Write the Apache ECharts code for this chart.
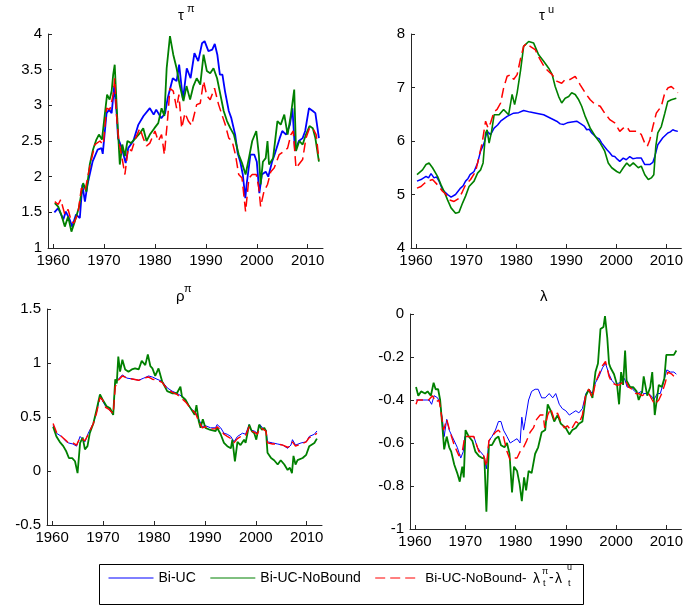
<!DOCTYPE html>
<html><head><meta charset="utf-8">
<script src="https://cdn.jsdelivr.net/npm/echarts@6/dist/echarts.min.js"></script>
<style>html,body{margin:0;padding:0;background:#fff}#c{width:686px;height:607px}</style>
</head><body><div id="c"></div>
<script>
// x tick labels (years)
const xTicks = [1960, 1970, 1980, 1990, 2000, 2010];
const seriesNames = ['Bi-UC', 'Bi-UC-NoBound', 'Bi-UC-NoBound-'];

// Panel 1: tau^pi
const tauPiBiUC = [[1960.25,1.50],[1961.0,1.56],[1962.0,1.40],[1962.5,1.51],[1963.25,1.40],[1963.75,1.30],[1964.5,1.47],[1965.25,1.42],[1965.75,1.89],[1966.25,1.65],[1966.75,1.89],[1967.75,2.21],[1968.75,2.38],[1969.5,2.40],[1969.75,2.32],[1970.5,2.89],[1971.0,2.94],[1971.5,2.89],[1972.0,3.27],[1972.5,2.87],[1972.75,2.54],[1973.5,2.40],[1974.25,2.19],[1974.75,2.40],[1975.75,2.50],[1976.75,2.73],[1977.75,2.85],[1979.0,2.96],[1979.75,2.87],[1980.25,2.94],[1981.25,2.82],[1982.0,2.89],[1982.5,3.10],[1983.5,3.38],[1984.25,3.34],[1984.75,3.57],[1985.5,3.08],[1986.25,3.52],[1987.0,3.38],[1987.75,3.73],[1988.5,3.62],[1989.25,3.87],[1989.75,3.90],[1990.5,3.76],[1991.25,3.78],[1991.75,3.86],[1992.25,3.71],[1992.75,3.43],[1993.25,3.43],[1993.75,3.20],[1994.5,2.92],[1995.0,2.82],[1995.75,2.59],[1996.25,2.33],[1996.75,2.21],[1997.25,2.03],[1997.75,1.70],[1998.0,1.89],[1998.75,2.31],[1999.5,2.31],[2000.0,2.21],[2000.5,1.77],[2001.0,2.03],[2001.75,2.07],[2002.25,2.00],[2003.0,2.21],[2003.5,2.31],[2004.5,2.54],[2005.0,2.64],[2005.75,2.59],[2006.5,2.73],[2007.0,2.96],[2007.5,2.36],[2008.25,2.50],[2009.0,2.54],[2009.5,2.64],[2010.25,2.96],[2011.0,2.92],[2011.5,2.89],[2012.2,2.54]];
const tauPiNoBound = [[1960.33,1.63],[1961.0,1.58],[1961.6,1.47],[1962.3,1.30],[1962.95,1.44],[1963.6,1.23],[1964.25,1.37],[1965.05,1.56],[1965.9,1.91],[1966.55,1.79],[1967.2,2.17],[1967.85,2.38],[1968.5,2.52],[1969.0,2.59],[1969.6,2.52],[1970.15,2.87],[1970.6,3.15],[1971.1,3.08],[1971.5,3.20],[1971.8,3.43],[1972.1,3.57],[1972.6,2.82],[1973.1,2.17],[1973.6,2.45],[1974.1,2.29],[1974.6,2.50],[1975.3,2.47],[1976.2,2.54],[1977.05,2.61],[1977.7,2.68],[1978.35,2.50],[1979.0,2.59],[1979.9,2.68],[1980.65,2.75],[1981.3,2.96],[1981.85,2.85],[1982.3,3.52],[1982.95,3.97],[1983.6,3.71],[1984.25,3.52],[1984.9,3.27],[1985.6,3.06],[1986.2,3.27],[1986.9,3.08],[1987.55,3.27],[1988.2,3.38],[1988.9,3.29],[1989.55,3.71],[1990.2,3.48],[1990.85,3.45],[1991.5,3.52],[1992.2,3.38],[1992.85,3.15],[1993.5,2.92],[1994.15,2.78],[1994.8,2.68],[1995.5,2.59],[1996.45,2.31],[1997.1,2.19],[1997.8,2.03],[1998.45,2.26],[1999.1,2.50],[1999.9,2.64],[2000.4,2.31],[2000.75,1.89],[2001.2,2.21],[2001.75,2.26],[2002.1,2.50],[2002.4,2.17],[2003.2,2.26],[2004.05,2.78],[2004.7,2.73],[2005.4,2.87],[2006.05,2.59],[2006.7,2.87],[2007.35,3.22],[2007.7,2.36],[2008.35,2.50],[2009.0,2.45],[2009.65,2.59],[2010.35,2.71],[2011.0,2.68],[2011.5,2.54],[2012.2,2.21]];
const tauPiNoBoundL = [[1960.33,1.65],[1961.0,1.61],[1961.5,1.68],[1962.3,1.47],[1962.95,1.54],[1963.6,1.37],[1964.1,1.35],[1964.9,1.49],[1965.55,1.84],[1966.25,1.79],[1967.2,2.14],[1968.2,2.45],[1969.2,2.50],[1969.85,2.45],[1970.5,2.96],[1971.15,2.94],[1971.8,3.15],[1972.1,3.38],[1972.45,2.87],[1972.9,2.50],[1973.55,2.26],[1974.1,2.03],[1974.75,2.40],[1975.4,2.36],[1976.2,2.54],[1977.05,2.68],[1977.7,2.54],[1978.35,2.43],[1979.0,2.47],[1980.0,2.64],[1980.65,2.50],[1981.3,2.59],[1981.85,2.31],[1982.5,2.82],[1982.95,3.24],[1983.6,3.20],[1984.25,2.96],[1984.7,3.15],[1985.25,2.68],[1985.9,2.89],[1986.55,2.78],[1987.2,2.72],[1988.2,3.01],[1988.9,3.03],[1989.55,3.34],[1990.2,3.13],[1990.85,3.08],[1991.7,3.24],[1992.5,3.01],[1993.15,2.87],[1993.8,2.73],[1994.5,2.54],[1995.15,2.50],[1995.8,2.31],[1996.45,2.03],[1997.1,1.98],[1997.8,1.51],[1998.45,1.98],[1999.1,2.03],[1999.9,2.03],[2000.4,1.84],[2000.75,1.58],[2001.4,1.79],[2002.1,1.89],[2002.75,2.07],[2003.4,2.12],[2004.4,2.31],[2005.4,2.36],[2006.05,2.40],[2006.7,2.59],[2007.15,2.64],[2007.7,2.12],[2009.0,2.24],[2009.65,2.54],[2010.35,2.68],[2011.0,2.68],[2011.65,2.59],[2012.2,2.24]];

// Panel 2: tau^u
const tauUBiUC = [[1960.2,5.25],[1961.0,5.28],[1962.0,5.34],[1962.5,5.31],[1963.0,5.39],[1963.6,5.31],[1964.1,5.33],[1964.6,5.25],[1965.3,5.09],[1966.3,5.00],[1967.0,4.95],[1967.9,5.00],[1968.9,5.12],[1969.4,5.16],[1969.9,5.25],[1970.4,5.30],[1970.8,5.37],[1971.6,5.43],[1972.3,5.59],[1972.9,5.81],[1973.6,5.96],[1974.2,6.18],[1974.9,6.12],[1975.6,6.24],[1976.3,6.30],[1976.9,6.37],[1978.2,6.46],[1979.5,6.52],[1980.5,6.53],[1981.5,6.57],[1982.8,6.54],[1984.0,6.52],[1985.5,6.49],[1986.8,6.43],[1988.1,6.37],[1988.8,6.32],[1989.5,6.31],[1990.2,6.34],[1990.8,6.35],[1992.1,6.37],[1993.1,6.31],[1993.6,6.28],[1994.1,6.21],[1994.6,6.22],[1995.1,6.15],[1996.1,6.06],[1996.6,6.04],[1997.1,5.96],[1998.1,5.84],[1998.7,5.78],[1999.2,5.72],[1999.7,5.71],[2000.2,5.66],[2000.7,5.62],[2001.4,5.68],[2002.0,5.65],[2002.7,5.71],[2003.3,5.67],[2004.0,5.68],[2005.0,5.68],[2005.7,5.56],[2006.7,5.56],[2007.3,5.60],[2007.7,5.71],[2008.3,5.93],[2009.3,6.06],[2010.3,6.15],[2010.8,6.17],[2011.3,6.21],[2011.8,6.19],[2012.3,6.18]];
const tauUNoBound = [[1960.2,5.37],[1961.3,5.46],[1962.0,5.56],[1962.6,5.59],[1963.3,5.50],[1964.3,5.34],[1965.0,5.18],[1965.6,5.06],[1966.3,4.90],[1967.0,4.75],[1967.9,4.65],[1968.6,4.67],[1969.3,4.84],[1969.9,4.97],[1970.6,5.15],[1971.6,5.25],[1972.3,5.40],[1972.9,5.46],[1973.4,5.59],[1973.9,6.15],[1974.2,6.21],[1974.6,5.96],[1975.1,6.18],[1975.6,6.49],[1976.6,6.49],[1977.5,6.59],[1978.5,6.49],[1979.2,6.87],[1979.7,6.68],[1980.2,6.90],[1980.9,7.33],[1981.5,7.77],[1982.5,7.86],[1983.5,7.83],[1984.5,7.61],[1985.5,7.49],[1986.5,7.36],[1987.2,7.24],[1987.8,7.02],[1988.5,6.83],[1989.1,6.71],[1989.8,6.80],[1990.5,6.83],[1991.1,6.90],[1991.8,6.87],[1992.5,6.77],[1993.1,6.65],[1993.8,6.46],[1994.8,6.24],[1995.8,6.09],[1996.8,5.96],[1997.7,5.81],[1998.4,5.59],[1999.1,5.50],[2000.1,5.43],[2000.7,5.40],[2001.4,5.50],[2002.1,5.59],[2002.7,5.53],[2003.4,5.59],[2004.4,5.50],[2005.0,5.53],[2005.7,5.37],[2006.4,5.28],[2007.0,5.31],[2007.5,5.37],[2007.9,5.90],[2008.3,6.15],[2009.0,6.27],[2009.7,6.52],[2010.3,6.74],[2011.0,6.77],[2012.0,6.80]];
const tauUNoBoundL = [[1960.2,5.12],[1961.0,5.15],[1961.7,5.21],[1962.3,5.25],[1963.3,5.28],[1964.3,5.18],[1965.3,5.06],[1966.0,5.00],[1966.6,4.90],[1967.6,4.87],[1968.6,4.93],[1969.3,5.06],[1969.9,5.18],[1970.9,5.28],[1971.9,5.43],[1972.6,5.71],[1973.2,5.96],[1973.9,6.37],[1974.4,6.24],[1974.9,6.34],[1975.6,6.55],[1976.2,6.59],[1976.9,6.71],[1977.5,6.99],[1978.2,7.21],[1978.9,7.24],[1979.5,7.15],[1980.2,7.24],[1980.9,7.55],[1981.5,7.77],[1982.2,7.83],[1982.8,7.77],[1983.8,7.71],[1984.8,7.52],[1985.8,7.36],[1986.5,7.30],[1987.2,7.24],[1988.1,7.12],[1989.1,7.08],[1989.8,7.15],[1990.8,7.15],[1991.8,7.21],[1992.8,7.05],[1993.8,6.90],[1994.8,6.77],[1995.8,6.68],[1996.8,6.65],[1997.7,6.52],[1998.7,6.40],[1999.7,6.34],[2000.7,6.18],[2001.4,6.24],[2002.1,6.27],[2002.7,6.18],[2003.7,6.18],[2004.4,6.18],[2005.0,6.12],[2005.7,5.96],[2006.2,5.90],[2006.7,6.02],[2007.4,6.30],[2008.0,6.52],[2009.0,6.65],[2009.7,6.90],[2010.3,6.99],[2011.0,7.02],[2011.7,6.96],[2012.3,6.90]];

// Panel 3: rho^pi
const rhoBiUC = [[1960.2,0.42],[1960.85,0.35],[1961.85,0.32],[1962.8,0.27],[1963.2,0.26],[1964.1,0.25],[1964.8,0.23],[1965.5,0.32],[1965.8,0.33],[1966.45,0.27],[1967.1,0.35],[1968.1,0.44],[1968.75,0.55],[1969.4,0.69],[1969.9,0.65],[1970.5,0.60],[1971.2,0.57],[1972.0,0.52],[1972.4,0.81],[1973.0,0.85],[1973.8,0.89],[1974.7,0.86],[1976.0,0.85],[1977.0,0.84],[1978.0,0.86],[1978.95,0.88],[1979.7,0.87],[1980.6,0.85],[1981.6,0.83],[1982.6,0.77],[1983.55,0.74],[1984.5,0.72],[1985.5,0.69],[1986.2,0.65],[1987.2,0.58],[1988.2,0.54],[1988.8,0.48],[1989.5,0.41],[1990.1,0.42],[1991.1,0.40],[1992.1,0.40],[1992.4,0.43],[1993.1,0.40],[1993.75,0.35],[1994.4,0.34],[1995.1,0.32],[1995.7,0.27],[1996.4,0.32],[1997.4,0.35],[1998.0,0.34],[1998.7,0.43],[1999.0,0.38],[1999.7,0.37],[2000.3,0.35],[2000.8,0.43],[2001.3,0.40],[2002.0,0.38],[2002.3,0.27],[2003.3,0.26],[2004.3,0.25],[2005.3,0.24],[2006.25,0.21],[2006.9,0.24],[2007.2,0.29],[2007.8,0.24],[2008.9,0.26],[2009.9,0.27],[2010.5,0.32],[2011.5,0.34],[2012.0,0.37]];
const rhoNoBound = [[1960.2,0.41],[1960.85,0.32],[1961.5,0.27],[1962.2,0.23],[1962.8,0.18],[1963.3,0.12],[1963.95,0.12],[1964.5,0.09],[1965.0,-0.02],[1965.5,0.26],[1966.0,0.31],[1966.45,0.20],[1966.95,0.23],[1967.4,0.35],[1968.1,0.44],[1968.75,0.57],[1969.4,0.71],[1970.05,0.65],[1970.7,0.60],[1971.4,0.58],[1972.0,0.52],[1972.4,0.85],[1972.7,0.81],[1973.0,1.06],[1973.35,0.92],[1973.8,1.03],[1974.35,0.94],[1975.0,0.92],[1975.65,0.94],[1976.3,0.95],[1977.0,0.94],[1977.6,1.02],[1978.3,0.98],[1978.8,1.08],[1979.3,0.97],[1979.7,0.95],[1980.25,0.88],[1980.9,0.95],[1981.6,0.83],[1982.6,0.74],[1983.55,0.72],[1984.5,0.72],[1985.2,0.78],[1985.5,0.69],[1986.2,0.66],[1986.8,0.61],[1987.2,0.58],[1988.0,0.52],[1988.35,0.61],[1988.8,0.46],[1989.15,0.40],[1989.6,0.48],[1990.1,0.40],[1991.1,0.38],[1992.1,0.37],[1992.4,0.40],[1993.1,0.34],[1993.75,0.26],[1994.4,0.23],[1995.1,0.21],[1995.4,0.29],[1995.9,0.09],[1996.4,0.27],[1997.0,0.24],[1997.7,0.29],[1998.0,0.26],[1998.7,0.43],[1999.2,0.37],[1999.7,0.35],[2000.1,0.29],[2000.65,0.43],[2001.2,0.38],[2001.65,0.40],[2002.0,0.37],[2002.3,0.17],[2003.0,0.12],[2003.6,0.10],[2004.3,0.06],[2004.9,0.10],[2005.6,0.06],[2006.25,0.01],[2006.7,0.03],[2007.1,-0.02],[2007.4,0.14],[2007.8,0.06],[2008.2,0.10],[2009.2,0.12],[2009.9,0.15],[2010.5,0.23],[2011.5,0.26],[2012.0,0.30]];
const rhoNoBoundL = [[1960.2,0.44],[1960.85,0.36],[1961.85,0.32],[1962.8,0.28],[1963.2,0.26],[1964.1,0.26],[1964.8,0.24],[1965.5,0.31],[1965.8,0.32],[1966.45,0.28],[1967.1,0.34],[1968.1,0.44],[1968.75,0.54],[1969.4,0.68],[1969.9,0.66],[1970.5,0.59],[1971.2,0.57],[1972.0,0.53],[1972.4,0.78],[1973.0,0.84],[1973.8,0.88],[1974.7,0.86],[1976.0,0.85],[1977.0,0.84],[1978.0,0.86],[1978.95,0.87],[1979.7,0.85],[1980.6,0.84],[1981.6,0.82],[1982.6,0.76],[1983.55,0.73],[1984.5,0.71],[1985.5,0.67],[1986.2,0.64],[1987.2,0.58],[1988.2,0.53],[1988.8,0.46],[1989.5,0.40],[1990.1,0.41],[1991.1,0.39],[1992.1,0.39],[1992.4,0.41],[1993.1,0.38],[1993.75,0.34],[1994.4,0.32],[1995.1,0.30],[1995.7,0.26],[1996.4,0.30],[1997.4,0.33],[1998.0,0.33],[1998.7,0.41],[1999.0,0.37],[1999.7,0.36],[2000.3,0.34],[2000.8,0.40],[2001.3,0.39],[2002.0,0.37],[2002.3,0.26],[2003.3,0.25],[2004.3,0.25],[2005.3,0.24],[2006.25,0.22],[2006.9,0.23],[2007.2,0.27],[2007.8,0.23],[2008.9,0.25],[2009.9,0.27],[2010.5,0.31],[2011.5,0.33],[2012.0,0.35]];

// Panel 4: lambda
const lamBiUC = [[1960.2,-0.40],[1961.2,-0.40],[1962.2,-0.40],[1962.8,-0.40],[1963.3,-0.42],[1963.8,-0.38],[1964.5,-0.39],[1965.0,-0.42],[1965.5,-0.50],[1965.8,-0.57],[1966.3,-0.49],[1966.8,-0.54],[1967.4,-0.57],[1968.4,-0.62],[1969.1,-0.67],[1969.6,-0.64],[1969.9,-0.57],[1970.7,-0.57],[1971.7,-0.57],[1972.4,-0.62],[1973.0,-0.64],[1973.7,-0.66],[1974.2,-0.72],[1974.7,-0.59],[1975.3,-0.57],[1976.0,-0.54],[1976.6,-0.50],[1977.1,-0.50],[1977.6,-0.54],[1978.3,-0.57],[1978.95,-0.60],[1979.6,-0.59],[1980.3,-0.58],[1980.9,-0.60],[1981.25,-0.48],[1981.6,-0.54],[1981.9,-0.50],[1982.6,-0.40],[1983.2,-0.36],[1983.9,-0.35],[1984.5,-0.35],[1985.2,-0.39],[1985.9,-0.39],[1986.7,-0.37],[1987.4,-0.39],[1988.0,-0.37],[1988.7,-0.42],[1989.3,-0.44],[1990.0,-0.45],[1990.7,-0.47],[1991.3,-0.46],[1992.0,-0.45],[1992.6,-0.46],[1993.3,-0.44],[1994.0,-0.37],[1994.6,-0.35],[1995.3,-0.37],[1995.9,-0.32],[1996.6,-0.29],[1997.3,-0.25],[1997.9,-0.23],[1998.6,-0.28],[1999.2,-0.31],[2000.0,-0.33],[2000.6,-0.32],[2001.2,-0.32],[2001.7,-0.30],[2002.2,-0.34],[2003.0,-0.34],[2003.7,-0.36],[2004.3,-0.37],[2005.0,-0.36],[2005.5,-0.37],[2006.3,-0.37],[2007.0,-0.38],[2007.5,-0.40],[2008.2,-0.37],[2008.8,-0.37],[2009.3,-0.33],[2010.1,-0.26],[2010.8,-0.27],[2011.5,-0.27],[2012.0,-0.28]];
const lamNoBound = [[1960.2,-0.34],[1960.65,-0.38],[1961.2,-0.36],[1962.0,-0.37],[1962.5,-0.36],[1963.15,-0.38],[1963.7,-0.32],[1964.1,-0.35],[1964.6,-0.35],[1965.0,-0.40],[1965.5,-0.54],[1965.8,-0.63],[1966.3,-0.57],[1966.8,-0.62],[1967.2,-0.64],[1967.8,-0.70],[1968.4,-0.74],[1968.9,-0.78],[1969.4,-0.71],[1969.7,-0.76],[1970.05,-0.54],[1970.7,-0.57],[1971.4,-0.59],[1972.0,-0.64],[1972.7,-0.66],[1973.35,-0.67],[1973.8,-0.67],[1974.2,-0.92],[1974.7,-0.61],[1975.3,-0.61],[1976.0,-0.58],[1976.6,-0.57],[1977.1,-0.61],[1977.8,-0.62],[1978.3,-0.60],[1978.8,-0.65],[1979.3,-0.83],[1979.7,-0.71],[1980.3,-0.73],[1980.8,-0.79],[1981.25,-0.87],[1981.7,-0.76],[1982.1,-0.82],[1982.6,-0.73],[1983.2,-0.74],[1983.9,-0.65],[1984.5,-0.62],[1985.2,-0.55],[1985.9,-0.54],[1986.4,-0.42],[1987.0,-0.45],[1987.7,-0.50],[1988.35,-0.47],[1989.0,-0.51],[1990.0,-0.53],[1990.7,-0.56],[1991.3,-0.54],[1992.0,-0.53],[1992.6,-0.51],[1993.3,-0.50],[1993.6,-0.45],[1994.0,-0.38],[1994.6,-0.35],[1995.3,-0.39],[1995.9,-0.27],[1996.4,-0.23],[1996.9,-0.07],[1997.5,-0.06],[1997.8,-0.01],[1998.25,-0.11],[1998.6,-0.23],[1998.9,-0.25],[1999.6,-0.28],[2000.2,-0.33],[2000.6,-0.42],[2001.0,-0.27],[2001.4,-0.33],[2001.8,-0.17],[2002.1,-0.31],[2002.8,-0.34],[2003.4,-0.34],[2004.1,-0.36],[2004.5,-0.40],[2005.2,-0.36],[2005.5,-0.29],[2006.2,-0.38],[2006.8,-0.34],[2007.2,-0.27],[2007.7,-0.47],[2008.5,-0.33],[2009.1,-0.34],[2009.6,-0.30],[2010.0,-0.19],[2010.8,-0.19],[2011.5,-0.19],[2012.0,-0.17]];
const lamNoBoundL = [[1960.2,-0.42],[1960.5,-0.40],[1961.4,-0.40],[1962.7,-0.40],[1963.5,-0.38],[1964.1,-0.41],[1964.8,-0.40],[1965.3,-0.48],[1965.7,-0.54],[1966.3,-0.49],[1967.0,-0.55],[1967.8,-0.61],[1968.75,-0.66],[1969.4,-0.64],[1969.9,-0.57],[1970.5,-0.57],[1971.7,-0.57],[1972.7,-0.64],[1973.55,-0.65],[1974.2,-0.71],[1974.7,-0.59],[1975.3,-0.57],[1976.0,-0.55],[1976.6,-0.54],[1977.6,-0.57],[1978.3,-0.64],[1978.95,-0.68],[1979.6,-0.67],[1980.3,-0.67],[1980.9,-0.64],[1981.6,-0.62],[1982.2,-0.59],[1982.9,-0.55],[1983.55,-0.53],[1984.2,-0.49],[1984.9,-0.47],[1985.5,-0.47],[1985.8,-0.53],[1986.4,-0.47],[1987.0,-0.44],[1987.7,-0.49],[1988.35,-0.46],[1989.0,-0.50],[1989.7,-0.53],[1990.3,-0.52],[1991.0,-0.54],[1992.0,-0.50],[1992.6,-0.51],[1993.3,-0.47],[1994.0,-0.37],[1994.6,-0.35],[1995.3,-0.39],[1995.9,-0.32],[1996.6,-0.28],[1997.3,-0.24],[1997.9,-0.22],[1998.6,-0.29],[1999.2,-0.32],[2000.0,-0.33],[2000.6,-0.33],[2001.2,-0.32],[2001.9,-0.31],[2002.5,-0.34],[2003.2,-0.35],[2003.9,-0.37],[2004.5,-0.37],[2005.2,-0.38],[2005.8,-0.37],[2006.5,-0.37],[2007.2,-0.40],[2007.7,-0.42],[2008.5,-0.40],[2009.1,-0.37],[2009.8,-0.32],[2010.3,-0.27],[2011.1,-0.28],[2012.0,-0.30]];

const panels = [
  [tauPiBiUC, tauPiNoBound, tauPiNoBoundL],
  [tauUBiUC, tauUNoBound, tauUNoBoundL],
  [rhoBiUC, rhoNoBound, rhoNoBoundL],
  [lamBiUC, lamNoBound, lamNoBoundL]
];
const yRanges = [[1, 4, 0.5], [4, 8, 1], [-0.5, 1.5, 0.5], [-1, 0, 0.2]];
const grids = [
  {left: 48, top: 34, width: 275, height: 214},
  {left: 411, top: 34, width: 272, height: 214},
  {left: 47, top: 309, width: 275, height: 216},
  {left: 410, top: 314, width: 273, height: 215}
];
const FONT = '"Liberation Sans", Arial, sans-serif';
const AX = '#262626';
const colors = ['#0000ff', '#008000', '#ff0000'];
const widths = [[1.8, 1.8, 1.5], [1.5, 1.6, 1.5], [1.0, 1.8, 1.4], [1.0, 1.8, 1.4]];

const xAxis = grids.map((g, i) => ({
  gridIndex: i, type: 'value', min: 1959, max: 2013,
  axisLine: {show: true, onZero: false, lineStyle: {color: AX, width: 1}},
  axisTick: {show: true, inside: true, length: 4, customValues: xTicks, lineStyle: {color: AX}},
  axisLabel: {customValues: xTicks, color: '#000', fontSize: 15, fontFamily: FONT, margin: 5,
    formatter: v => String(v)},
  splitLine: {show: false}
}));
const yAxis = grids.map((g, i) => ({
  gridIndex: i, type: 'value', min: yRanges[i][0], max: yRanges[i][1], interval: yRanges[i][2],
  axisLine: {show: true, onZero: false, lineStyle: {color: AX, width: 1}},
  axisTick: {show: true, inside: true, length: 4, lineStyle: {color: AX}},
  axisLabel: {color: '#000', fontSize: 15, fontFamily: FONT, margin: 6,
    formatter: v => String(Math.round(v * 100) / 100)},
  splitLine: {show: false}
}));
const series = [];
panels.forEach((arrs, i) => {
  arrs.forEach((d, k) => {
    series.push({
      name: seriesNames[k], type: 'line', xAxisIndex: i, yAxisIndex: i, data: d,
      showSymbol: false, symbol: 'none', animation: false, silent: true,
      lineStyle: {color: colors[k], width: widths[i][k], type: k === 2 ? [10, 5] : 'solid'},
      itemStyle: {color: colors[k]}
    });
  });
});

function txt(x, y, s, size, align) {
  return {type: 'text', x: x, y: y, silent: true,
    style: {text: s, fontSize: size, fontFamily: FONT, fill: '#000', align: align || 'left', verticalAlign: 'middle'}};
}
const graphic = [
  // titles
  txt(178, 16, 'τ', 15), txt(187, 9, 'π', 11),
  txt(539, 16, 'τ', 15), txt(548, 10, 'u', 11),
  txt(176, 297, 'ρ', 15), txt(184, 289, 'π', 11),
  txt(540, 297, 'λ', 15),
  // legend box
  {type: 'rect', shape: {x: 99.5, y: 564.5, width: 484, height: 40}, silent: true,
   style: {fill: 'none', stroke: '#000', lineWidth: 1}},
  // legend math suffix
  txt(533, 579, 'λ', 14), txt(542, 572, 'π', 9), txt(543, 584, 't', 9),
  txt(549, 578, '-', 14), txt(555, 579, 'λ', 14), txt(567, 568, 'u', 9), txt(568, 584, 't', 9)
];

const chart = echarts.init(document.getElementById('c'), null, {renderer: 'canvas'});
chart.setOption({
  animation: false,
  backgroundColor: '#fff',
  grid: grids.map(g => Object.assign({containLabel: false}, g)),
  xAxis: xAxis, yAxis: yAxis, series: series,
  legend: {
    data: [
      {name: seriesNames[0]},
      {name: seriesNames[1]},
      {name: seriesNames[2], textStyle: {fontSize: 13.5}}
    ],
    left: 108, top: 571, itemWidth: 45, itemHeight: 14, itemGap: 14,
    padding: 0, selectedMode: false,
    itemStyle: {opacity: 0},
    lineStyle: {width: 1},
    textStyle: {fontSize: 14, fontFamily: FONT, color: '#000'}
  },
  graphic: graphic
});
</script>
</body></html>
